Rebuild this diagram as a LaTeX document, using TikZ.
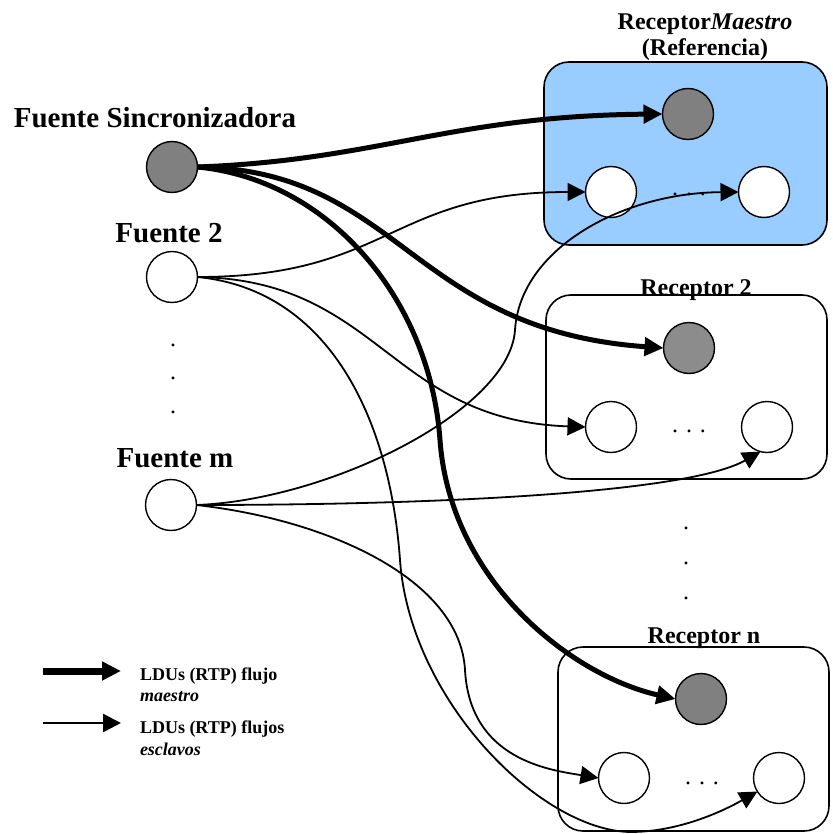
\documentclass[tikz,border=0pt]{standalone}
\usepackage{fontspec}
\setmainfont{Liberation Serif}
\usetikzlibrary{arrows.meta}
\definecolor{masterbox}{RGB}{153,204,255}
\definecolor{mastergray}{RGB}{128,128,128}
\definecolor{lightgrayfill}{RGB}{140,140,140}

\begin{document}
\begin{tikzpicture}[x=1pt,y=-1pt,
  every node/.style={inner sep=0pt, outer sep=0pt},
  station/.style={circle, draw=black, line width=1.4pt, minimum size=51pt},
  masternode/.style={station, fill=mastergray},
  slavenode/.style={station, fill=white},
  rbox/.style={draw=black, line width=1.6pt, rounded corners=25pt},
  biglabel/.style={font=\bfseries\fontsize{29}{33}\selectfont, anchor=base},
  boxlabel/.style={font=\bfseries\fontsize{24}{28}\selectfont, anchor=base},
  legtext/.style={font=\bfseries\fontsize{18}{21}\selectfont, anchor=base west},
  dotmark/.style={font=\fontsize{24}{28}\selectfont, anchor=base},
  masterflow/.style={line width=5pt, -{Triangle[length=19pt,width=18pt]}},
  slaveflow/.style={line width=1.8pt, -{Triangle[length=18pt,width=18pt]}},
]
\useasboundingbox (0,0) rectangle (832,834);

% receiver boxes
\node[rbox, fill=masterbox, minimum width=283pt, minimum height=183pt] (boxM) at (685.5,153.5) {};
\node[rbox, fill=white, minimum width=281pt, minimum height=184pt] (box2) at (686.5,387) {};
\node[rbox, fill=white, minimum width=271pt, minimum height=184pt] (boxN) at (693.5,739) {};

% box titles
\node[boxlabel] (lM1) at (705,30) {Receptor\textit{Maestro}};
\node[boxlabel] (lM2) at (705,56) {(Referencia)};
\node[boxlabel] (lR2) at (696,295) {Receptor 2};
\node[boxlabel] (lRn) at (704,643) {Receptor n};

% sources
\node[masternode] (sync) at (172,167) {};
\node[slavenode] (f2) at (172,277) {};
\node[slavenode] (fm) at (171,505) {};
\node[biglabel] (lsync) at (155,128) {Fuente Sincronizadora};
\node[biglabel] (lf2) at (169,242) {Fuente 2};
\node[biglabel] (lfm) at (175,467) {Fuente m};
\node[dotmark] (vd1) at (173,346) {.};
\node[dotmark] (vd2) at (173,379) {.};
\node[dotmark] (vd3) at (173,413) {.};

% receivers
\node[masternode] (mg) at (688,114) {};
\node[slavenode] (mw1) at (611,192) {};
\node[slavenode] (mw2) at (764,192) {};
\node[dotmark] (md) at (689,196) {.\hspace{8pt}.\hspace{8pt}.};

\node[masternode, fill=lightgrayfill] (r2g) at (689,348) {};
\node[slavenode] (r2w1) at (611,427) {};
\node[slavenode] (r2w2) at (767,427) {};
\node[dotmark] (r2d) at (689,432) {.\hspace{8pt}.\hspace{8pt}.};

\node[masternode] (rng) at (701,699) {};
\node[slavenode] (rnw1) at (624,778) {};
\node[slavenode] (rnw2) at (779,778) {};
\node[dotmark] (rnd) at (702,784) {.\hspace{8pt}.\hspace{8pt}.};

\node[dotmark] (hd1) at (686,529) {.};
\node[dotmark] (hd2) at (686,564) {.};
\node[dotmark] (hd3) at (686,599) {.};

% master flows
\draw[masterflow] (sync.east) .. controls (380,160) and (450,116) .. (mg.west);
\draw[masterflow] (sync.east) .. controls (400,170) and (410,330) .. (r2g.west);
\draw[masterflow] (sync.east) .. controls (330,180) and (430,300) .. (440,440)
  .. controls (450,580) and (570,675) .. (rng.west);

% slave flows from Fuente 2
\draw[slaveflow] (f2.east) .. controls (390,277) and (390,192) .. (mw1.west);
\draw[slaveflow] (f2.east) .. controls (380,280) and (390,420) .. (r2w1.west);
\draw[slaveflow] (f2.east) .. controls (330,290) and (390,420) .. (400,560)
  .. controls (410,700) and (540,830) .. (630,832)
  .. controls (680,832) and (725,810) .. (rnw2.212);

% slave flows from Fuente m
\draw[slaveflow] (fm.east) .. controls (330,500) and (510,410) .. (515,330)
  .. controls (520,250) and (620,193) .. (mw2.west);
\draw[slaveflow] (fm.east) .. controls (450,505) and (690,492) .. (r2w2.255);
\draw[slaveflow] (fm.east) .. controls (330,520) and (460,580) .. (465,670)
  .. controls (470,760) and (550,770) .. (rnw1.west);

% legend
\coordinate (lgA1) at (43,671);
\coordinate (lgA2) at (121,671);
\coordinate (lgB1) at (43,723);
\coordinate (lgB2) at (121,723);
\draw[line width=7pt, -{Triangle[length=19pt,width=18pt]}] (lgA1) -- (lgA2);
\draw[line width=2.5pt, -{Triangle[length=18pt,width=18pt]}] (lgB1) -- (lgB2);
\node[legtext] (lg1) at (140,680) {LDUs (RTP) flujo};
\node[legtext] (lg2) at (140,701) {\textit{maestro}};
\node[legtext] (lg3) at (140,733) {LDUs (RTP) flujos};
\node[legtext] (lg4) at (140,755) {\textit{esclavos}};
\end{tikzpicture}
\end{document}
